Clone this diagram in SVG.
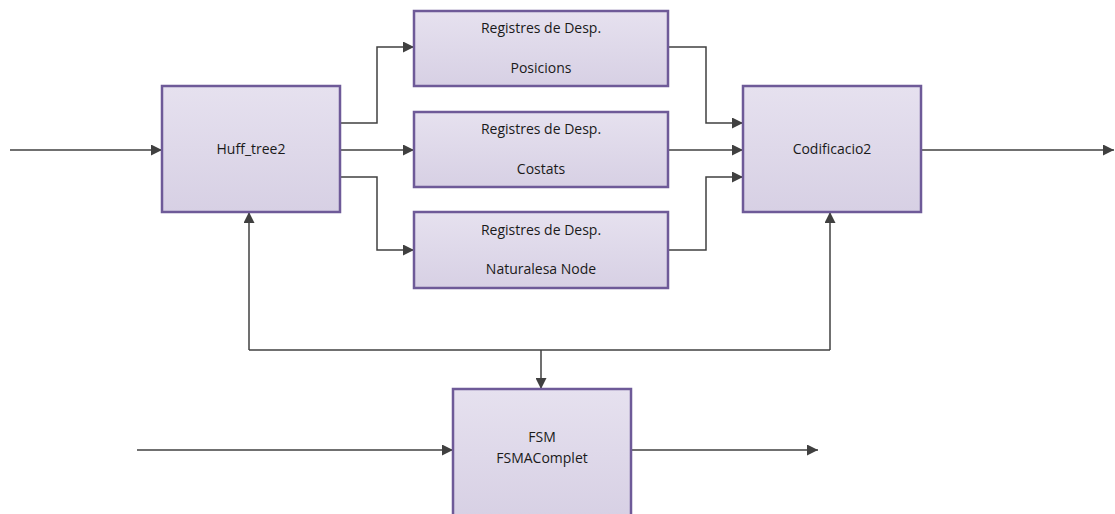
<svg xmlns="http://www.w3.org/2000/svg" width="1115" height="514" viewBox="0 0 1115 514">
<defs>
<linearGradient id="g" x1="0" y1="0" x2="0" y2="1">
<stop offset="0" stop-color="#e6e1ef"/>
<stop offset="1" stop-color="#d7d0e4"/>
</linearGradient>
<marker id="a" viewBox="0 0 10 10" refX="10" refY="5" markerWidth="11" markerHeight="11" markerUnits="userSpaceOnUse" orient="auto">
<path d="M0,0 L10,5 L0,10 z" fill="#404040"/>
</marker>
<style>
.b{fill:url(#g);stroke:#6e5a98;stroke-width:2.5}
.t{font-family:"Open Sans","Liberation Sans",sans-serif;font-size:14px;fill:#1a1a1a;text-anchor:middle}
.c{fill:none;stroke:#404040;stroke-width:1.5;marker-end:url(#a)}
.l{fill:none;stroke:#404040;stroke-width:1.5}
</style>
</defs>
<rect width="1115" height="514" fill="#fff"/>
<g id="connectors">
<path class="c" d="M10,150 H162"/>
<path class="c" d="M340,123 H377 V47 H414"/>
<path class="c" d="M340,150 H414"/>
<path class="c" d="M340,177 H377 V250 H414"/>
<path class="c" d="M668,47 H706 V123 H743"/>
<path class="c" d="M668,150 H743"/>
<path class="c" d="M668,250 H706 V177 H743"/>
<path class="c" d="M921,150 H1114"/>
<path class="l" d="M249,350 H830"/>
<path class="c" d="M249,350 V212"/>
<path class="c" d="M830,350 V212"/>
<path class="c" d="M541,350 V389"/>
<path class="c" d="M137,450 H453"/>
<path class="c" d="M631,450 H818"/>
</g>
<g id="huff">
<rect class="b" x="162" y="86" width="178" height="126"/>
<text class="t" x="251" y="154">Huff_tree2</text>
</g>
<g id="reg1">
<rect class="b" x="414" y="11" width="254" height="75"/>
<text class="t" x="541" y="33">Registres de Desp.</text>
<text class="t" x="541" y="73">Posicions</text>
</g>
<g id="reg2">
<rect class="b" x="414" y="112" width="254" height="75"/>
<text class="t" x="541" y="134">Registres de Desp.</text>
<text class="t" x="541" y="174">Costats</text>
</g>
<g id="reg3">
<rect class="b" x="414" y="212" width="254" height="76"/>
<text class="t" x="541" y="235">Registres de Desp.</text>
<text class="t" x="541" y="274">Naturalesa Node</text>
</g>
<g id="cod">
<rect class="b" x="743" y="86" width="178" height="126"/>
<text class="t" x="832" y="154">Codificacio2</text>
</g>
<g id="fsm">
<rect class="b" x="453" y="389" width="178" height="130"/>
<text class="t" x="542" y="442">FSM</text>
<text class="t" x="542" y="463">FSMAComplet</text>
</g>
</svg>
